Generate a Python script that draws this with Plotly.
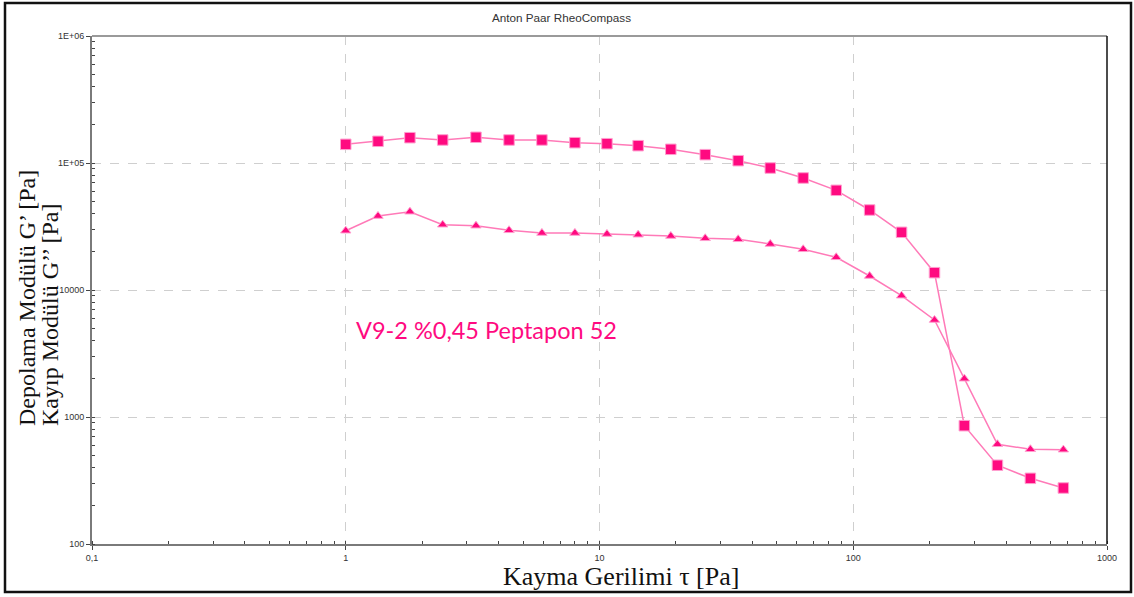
import plotly.graph_objects as go

# shear stress [Pa]
tau = [1.0, 1.34, 1.79, 2.41, 3.26, 4.4, 5.93, 8.0, 10.7, 14.2, 19.1, 26.1,
       35.2, 47.1, 63.5, 85.7, 116, 155, 209, 274, 370, 499, 673]
# storage modulus G' [Pa]
g_storage = [140300, 148200, 158200, 151800, 159400, 151800, 151800, 144500,
             141900, 136900, 128200, 116300, 104300, 91300, 76200, 60950,
             42650, 28470, 13690, 854, 417, 329, 276]
# loss modulus G'' [Pa]
g_loss = [29300, 38250, 41350, 32680, 32090, 29520, 28100, 28100, 27600,
          27250, 26620, 25530, 25070, 23020, 20920, 18090, 12890, 9020, 5804,
          2002, 610, 557, 553]

x_tickvals = [0.1, 1, 10, 100, 1000]
x_ticktext = ["0,1", "1", "10", "100", "1000"]
y_tickvals = [100, 1000, 10000, 100000, 1000000]
y_ticktext = ["100", "1000", "10000", "1E+05", "1E+06"]

W, H = 1134, 597
L, R, T, B = 92, 1107, 36, 544

def px(xp):
    return (xp - L) / (R - L)

def py(yp):
    return (B - yp) / (B - T)

PINK = "#ff0a80"
LINE = "#ff7ab8"

fig = go.Figure()
fig.add_trace(go.Scatter(
    x=tau, y=g_storage, mode="lines+markers", name="G'",
    line=dict(color=LINE, width=1.5),
    marker=dict(symbol="square", size=10.5, color=PINK,
                line=dict(color="#ff9fcf", width=1)),
))
fig.add_trace(go.Scatter(
    x=tau, y=g_loss, mode="lines+markers", name="G''",
    line=dict(color=LINE, width=1.5),
    marker=dict(symbol="triangle-up", size=9, color=PINK,
                line=dict(color="#ff9fcf", width=1)),
))

axis_font = dict(family="Liberation Sans, Arial", size=9, color="#333333")
fig.update_xaxes(
    type="log", range=[-1, 3], tickvals=x_tickvals, ticktext=x_ticktext,
    showline=True, linecolor="#7a7a7a", linewidth=2,
    ticks="outside", ticklen=4, tickcolor="#444444", tickwidth=1,
    tickfont=axis_font,
    showgrid=True, gridcolor="#cfcfcf", griddash="dash", gridwidth=1,
    minor=dict(dtick="D1", ticks="inside", ticklen=3, tickcolor="#444444",
               showgrid=False),
    zeroline=False,
)
fig.update_yaxes(
    type="log", range=[2, 6], tickvals=y_tickvals, ticktext=y_ticktext,
    showline=True, linecolor="#7a7a7a", linewidth=2,
    ticks="outside", ticklen=4, tickcolor="#444444", tickwidth=1,
    tickfont=axis_font,
    showgrid=True, gridcolor="#cfcfcf", griddash="dash", gridwidth=1,
    minor=dict(dtick="D1", ticks="inside", ticklen=3, tickcolor="#444444",
               showgrid=False),
    zeroline=False,
)

shapes = [
    # top border of plot (grey)
    dict(type="line", xref="paper", yref="paper", x0=0, x1=1, y0=1, y1=1,
         line=dict(color="#9a9a9a", width=2)),
    # right border of plot (black)
    dict(type="line", xref="paper", yref="paper", x0=1, x1=1, y0=0, y1=1,
         line=dict(color="#111111", width=1.5)),
    # outer frame
    dict(type="rect", xref="paper", yref="paper",
         x0=px(5), x1=px(1131), y0=py(592), y1=py(3),
         line=dict(color="#111111", width=2.5), layer="above"),
]

annotations = [
    dict(text="Anton Paar RheoCompass", xref="paper", yref="paper",
         x=px(561), y=py(17), showarrow=False, xanchor="center", yanchor="middle",
         font=dict(family="Liberation Sans, Arial", size=11.7, color="#333333")),
    dict(text="V9-2 %0,45 Peptapon 52", xref="paper", yref="paper",
         x=px(354), y=py(330), showarrow=False, xanchor="left", yanchor="middle",
         font=dict(family="Lato, Open Sans", size=23.5, color=PINK)),
    dict(text="Kayma Gerilimi τ [Pa]", xref="paper", yref="paper",
         x=px(621), y=py(576), showarrow=False, xanchor="center", yanchor="middle",
         font=dict(family="Liberation Serif, Times New Roman", size=26, color="#111111")),
    dict(text="Depolama Modülü G’ [Pa]", xref="paper", yref="paper",
         x=px(27), y=py(428), showarrow=False, xanchor="center", yanchor="bottom",
         textangle=-90,
         font=dict(family="Liberation Serif, Times New Roman", size=24, color="#111111")),
    dict(text="Kayıp Modülü G’’ [Pa]", xref="paper", yref="paper",
         x=px(50), y=py(428), showarrow=False, xanchor="center", yanchor="bottom",
         textangle=-90,
         font=dict(family="Liberation Serif, Times New Roman", size=24, color="#111111")),
]

fig.update_layout(
    width=W, height=H,
    margin=dict(l=L, r=W - R, t=T, b=H - B),
    paper_bgcolor="white", plot_bgcolor="white",
    showlegend=False,
    shapes=shapes, annotations=annotations,
)

fig.write_html("out.html", config={"displayModeBar": False},
               post_script="document.body.style.margin='0';document.body.style.overflow='hidden';")
